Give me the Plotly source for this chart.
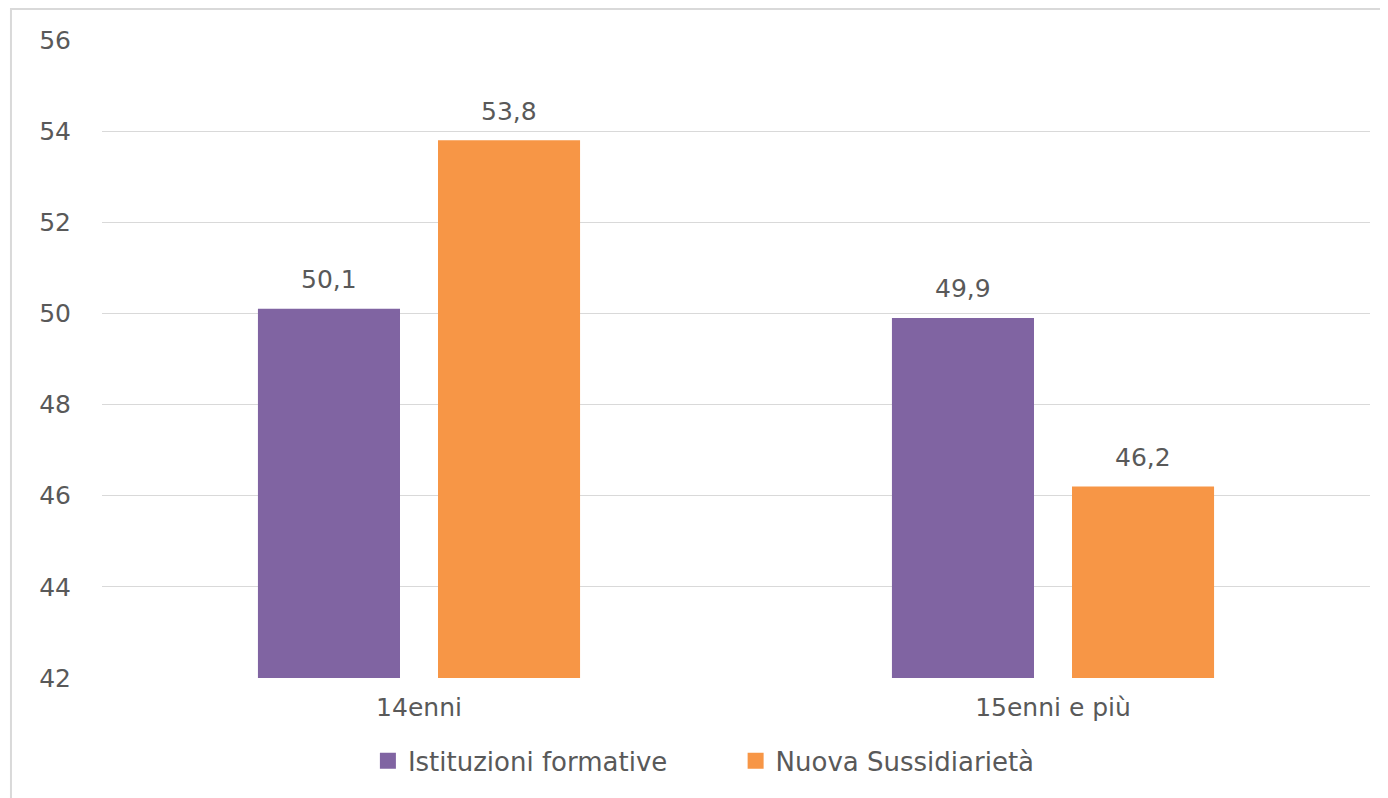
import plotly.graph_objects as go

categories = ["14enni", "15enni e più"]
series_names = ["Istituzioni formative", "Nuova Sussidiarietà"]
istituzioni = [50.1, 49.9]
nuova = [53.8, 46.2]
y_ticks = [42, 44, 46, 48, 50, 52, 54, 56]

colors = ["#8064A2", "#F79646"]
font_family = "DejaVu Sans, sans-serif"
grey = "#595959"
fsize = 25
lsize = 26

fig = go.Figure()
series = [istituzioni, nuova]
legend_ids = ["legend", "legend2"]
for name, vals, col, lid in zip(series_names, series, colors, legend_ids):
    fig.add_trace(go.Bar(
        x=categories, y=vals, name=name,
        marker=dict(color=col, line=dict(width=0)),
        showlegend=False,
    ))
    # legend proxy with larger square symbol
    fig.add_trace(go.Scatter(
        x=[None], y=[None], mode="markers", name=name,
        marker=dict(symbol="square", size=19, color=col),
        showlegend=True, legend=lid,
    ))

annotations = []
for si, vals in enumerate(series):
    shift = -90 if si == 0 else 90
    for cat, v in zip(categories, vals):
        annotations.append(dict(
            x=cat, y=v, xref="x", yref="y", xshift=shift, yshift=29,
            text=f"{v:.1f}".replace(".", ","), showarrow=False,
            yanchor="middle", xanchor="center",
            font=dict(size=fsize, color=grey, family=font_family),
        ))

leg_common = dict(orientation="h", xanchor="left", y=-0.13, yanchor="middle",
                  font=dict(size=lsize, color=grey, family=font_family),
                  itemwidth=30, bgcolor="rgba(0,0,0,0)")

fig.update_layout(
    width=1388, height=798,
    margin=dict(l=94, r=26, t=32, b=128, autoexpand=False),
    paper_bgcolor="white", plot_bgcolor="white",
    barmode="group", bargap=0.432, bargroupgap=0.211,
    font=dict(family=font_family, size=fsize, color=grey),
    showlegend=True,
    legend=dict(x=0.2097, **leg_common),
    legend2=dict(x=0.4997, **leg_common),
    yaxis=dict(range=[42, 56], tickvals=y_ticks, showgrid=True, gridcolor="#d9d9d9",
               gridwidth=1, zeroline=False, showline=False, ticks="",
               ticklabelstandoff=30, tickfont=dict(size=fsize, color=grey)),
    xaxis=dict(showline=False, ticks="", tickfont=dict(size=fsize, color=grey),
               ticklabelstandoff=12),
    annotations=annotations,
    shapes=[dict(type="rect", xref="paper", yref="paper",
                 x0=-0.0718, x1=1.03, y0=-0.25, y1=1.0486,
                 line=dict(color="#d9d9d9", width=2), fillcolor="rgba(0,0,0,0)",
                 layer="below")],
)

fig.write_html("out.html")
